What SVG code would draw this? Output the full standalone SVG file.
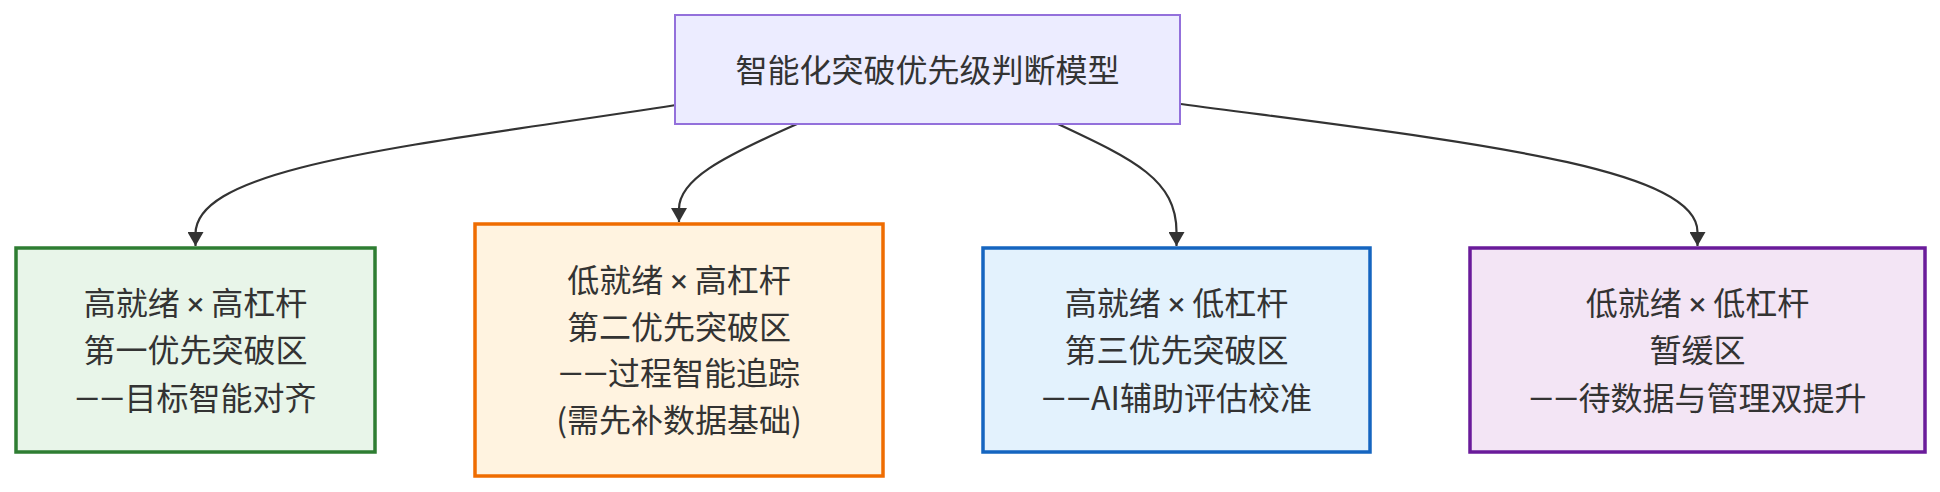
<svg xmlns="http://www.w3.org/2000/svg" width="1940" height="492" viewBox="0 0 1940 492">
<style>
.t{font-family:"Noto Sans CJK SC","Noto Sans",sans-serif;font-size:32px;fill:#333;text-anchor:middle}
.r{font-family:Roboto,"Noto Sans",sans-serif}
.e{fill:none;stroke:#333;stroke-width:2.2}
</style>
<defs>
<marker id="ah" markerUnits="userSpaceOnUse" markerWidth="14" markerHeight="16" viewBox="0 0 14 16" refX="14" refY="8" orient="auto">
<path d="M0,0 L14,8 L0,16 z" fill="#333"/>
</marker>
</defs>
<rect width="1940" height="492" fill="#fff"/>
<g id="edges">
<path class="e" d="M676,105 C420,145 195.5,165 195.5,234 L195.5,246" marker-end="url(#ah)"/>
<path class="e" d="M797,124 C720,158 679,180 679,209 L679,222" marker-end="url(#ah)"/>
<path class="e" d="M1058,124 C1135,160 1176.5,180 1176.5,232 L1176.5,246" marker-end="url(#ah)"/>
<path class="e" d="M1181,104 C1450,140 1697.5,165 1697.5,232 L1697.5,246" marker-end="url(#ah)"/>
</g>
<g id="root">
<rect x="675" y="15" width="505" height="109" fill="#ececff" stroke="#9370db" stroke-width="2"/>
<text class="t" x="927.5" y="82">智能化突破优先级判断模型</text>
</g>
<g id="q1">
<rect x="16" y="248" width="359" height="204" fill="#e8f5e9" stroke="#2e7d32" stroke-width="3.5"/>
<text class="t" x="195.5" y="314.5">高就绪 <tspan class="r">×</tspan> 高杠杆</text>
<text class="t" x="195.5" y="362">第一优先突破区</text>
<text class="t" x="195.5" y="409.5"><tspan class="r">——</tspan>目标智能对齐</text>
</g>
<g id="q2">
<rect x="475" y="224" width="408" height="252" fill="#fff3e0" stroke="#ef6c00" stroke-width="3.5"/>
<text class="t" x="679" y="292">低就绪 <tspan class="r">×</tspan> 高杠杆</text>
<text class="t" x="679" y="338.7">第二优先突破区</text>
<text class="t" x="679" y="385.3"><tspan class="r">——</tspan>过程智能追踪</text>
<text class="t" x="679" y="432">(需先补数据基础)</text>
</g>
<g id="q3">
<rect x="983" y="248" width="387" height="204" fill="#e3f2fd" stroke="#1565c0" stroke-width="3.5"/>
<text class="t" x="1176.5" y="314.5">高就绪 <tspan class="r">×</tspan> 低杠杆</text>
<text class="t" x="1176.5" y="362">第三优先突破区</text>
<text class="t" x="1176.5" y="409.5"><tspan class="r">——</tspan>AI辅助评估校准</text>
</g>
<g id="q4">
<rect x="1470" y="248" width="455" height="204" fill="#f3e5f5" stroke="#6a1b9a" stroke-width="3.5"/>
<text class="t" x="1697.5" y="314.5">低就绪 <tspan class="r">×</tspan> 低杠杆</text>
<text class="t" x="1697.5" y="362">暂缓区</text>
<text class="t" x="1697.5" y="409.5"><tspan class="r">——</tspan>待数据与管理双提升</text>
</g>
</svg>
